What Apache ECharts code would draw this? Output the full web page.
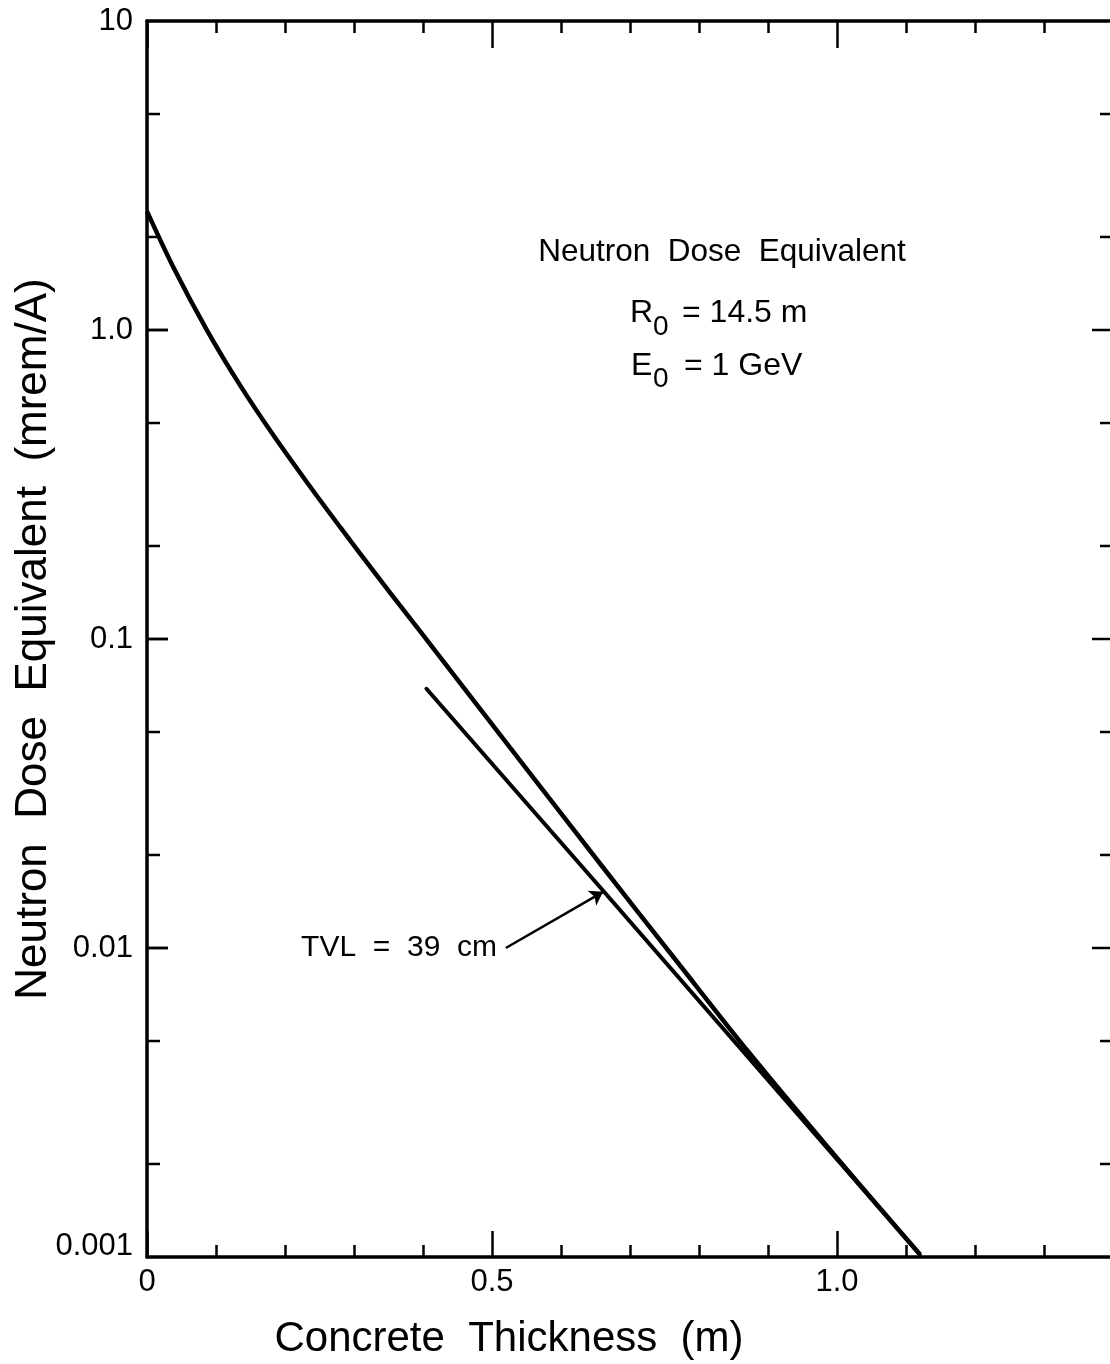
<!DOCTYPE html>
<html><head><meta charset="utf-8">
<script src="https://cdn.jsdelivr.net/npm/echarts@6/dist/echarts.min.js"></script>
<style>html,body{margin:0;padding:0;background:#fff;overflow:hidden}#c{width:1113px;height:1364px}</style>
</head><body><div id="c"></div>
<script>
// ---- data ----
const curveX = [0, 0.038, 0.087, 0.135, 0.183, 0.232, 0.280, 0.328, 0.377, 0.420, 0.550, 0.657, 0.772, 0.870, 1.000, 1.120];
const curveY = [2.42, 1.60, 0.998, 0.662, 0.457, 0.321, 0.230, 0.166, 0.120, 0.0902, 0.0380, 0.0187, 0.00881, 0.00466, 0.00209, 0.00102];
const tvlX = [0.405, 0.657, 1.120];
const tvlY = [0.069, 0.0157, 0.00102];
const arrowFrom = [0.520, 0.0100];
const arrowTo = [0.661, 0.0152];
const xTickValues = [0, 0.5, 1.0];
const xTickLabels = ['0', '0.5', '1.0'];
const yTickLabels = ['0.001', '0.01', '0.1', '1.0', '10'];
const yMajorTicks = [0.01, 0.1, 1];
const yMinorTicks = [5, 2, 0.5, 0.2, 0.05, 0.02, 0.005, 0.002];
const xMax = 1.4;

const FONT = 'Liberation Sans';
const toPairs = (xs, ys) => xs.map((x, i) => [x, ys[i]]);

function xLabel(v) {
  for (let i = 0; i < xTickValues.length; i++) {
    if (Math.abs(v - xTickValues[i]) < 1e-6) return xTickLabels[i];
  }
  return '';
}
function yLabel(v) {
  const k = Math.round(Math.log10(v)) + 3;
  const t = yTickLabels[k] || '';
  return k === 0 ? '{low|' + t + '}' : t;
}

const baseX = {
  type: 'value', min: 0, max: xMax, splitLine: { show: false },
  axisLine: { show: false }, axisLabel: { show: false }
};
const TICK = { color: '#000', width: 2.5 };

// all y-axis ticks (both sides) drawn through the y scale
const yTickRows = [];
[0, xMax].forEach(x => {
  yMajorTicks.forEach(v => yTickRows.push([x, v, 1]));
  yMinorTicks.forEach(v => yTickRows.push([x, v, 0]));
});

const option = {
  animation: false,
  backgroundColor: '#fff',
  grid: { left: 147, top: 21, right: 0, bottom: 107, containLabel: false, outerBoundsMode: 'none' },
  xAxis: [
    Object.assign({}, baseX, {
      position: 'bottom', interval: 0.1,
      axisLine: { show: true, onZero: false, lineStyle: { color: '#000', width: 3.5 } },
      axisTick: { inside: true, length: 12, lineStyle: TICK },
      axisLabel: { show: true, formatter: xLabel, color: '#000', fontFamily: FONT, fontSize: 31, margin: 10 },
      name: 'Concrete  Thickness  (m)', nameLocation: 'middle', nameGap: 61,
      nameTextStyle: { color: '#000', fontFamily: FONT, fontSize: 42, padding: [0, 242, 0, 0] }
    }),
    Object.assign({}, baseX, {
      position: 'bottom', interval: 0.5,
      axisTick: { inside: true, length: 26, lineStyle: TICK }
    }),
    Object.assign({}, baseX, {
      position: 'top', interval: 0.1,
      axisLine: { show: true, onZero: false, lineStyle: { color: '#000', width: 3.5 } },
      axisTick: { inside: true, length: 12, lineStyle: TICK }
    }),
    Object.assign({}, baseX, {
      position: 'top', interval: 0.5,
      axisTick: { inside: true, length: 27, lineStyle: TICK }
    })
  ],
  yAxis: [
    {
      type: 'log', logBase: 10, min: 0.001, max: 10, position: 'left',
      splitLine: { show: false },
      axisLine: { show: true, onZero: false, lineStyle: { color: '#000', width: 3.5 } },
      axisTick: { show: false },
      axisLabel: {
        formatter: yLabel, color: '#000', fontFamily: FONT, fontSize: 31, margin: 14,
        rich: { low: { color: '#000', fontFamily: FONT, fontSize: 31, padding: [0, 0, 22, 0] } }
      },
      name: 'Neutron  Dose  Equivalent  (mrem/A)', nameLocation: 'middle', nameRotate: 90, nameGap: 91,
      nameMoveOverlap: false,
      nameTextStyle: { color: '#000', fontFamily: FONT, fontSize: 44 }
    }
  ],
  graphic: [
    { type: 'text', x: 722, y: 252, style: { text: 'Neutron  Dose  Equivalent', fill: '#000', fontSize: 31.5, fontFamily: FONT, align: 'center', verticalAlign: 'middle' } },
    { type: 'text', x: 630, y: 313, style: { text: 'R', fill: '#000', fontSize: 32, fontFamily: FONT, align: 'left', verticalAlign: 'middle' } },
    { type: 'text', x: 653, y: 327, style: { text: '0', fill: '#000', fontSize: 28, fontFamily: FONT, align: 'left', verticalAlign: 'middle' } },
    { type: 'text', x: 682, y: 313, style: { text: '= 14.5 m', fill: '#000', fontSize: 32, fontFamily: FONT, align: 'left', verticalAlign: 'middle' } },
    { type: 'text', x: 631, y: 366, style: { text: 'E', fill: '#000', fontSize: 32, fontFamily: FONT, align: 'left', verticalAlign: 'middle' } },
    { type: 'text', x: 653, y: 379, style: { text: '0', fill: '#000', fontSize: 28, fontFamily: FONT, align: 'left', verticalAlign: 'middle' } },
    { type: 'text', x: 684, y: 366, style: { text: '= 1 GeV', fill: '#000', fontSize: 32, fontFamily: FONT, align: 'left', verticalAlign: 'middle' } },
    { type: 'text', x: 497, y: 948, style: { text: 'TVL  =  39  cm', fill: '#000', fontSize: 30, fontFamily: FONT, align: 'right', verticalAlign: 'middle' } }
  ],
  series: [
    {
      type: 'line', xAxisIndex: 0, yAxisIndex: 0, data: toPairs(curveX, curveY),
      smooth: 0.3, symbol: 'none', lineStyle: { color: '#000', width: 4.5 }, z: 3
    },
    {
      type: 'line', xAxisIndex: 0, yAxisIndex: 0, data: toPairs(tvlX, tvlY),
      symbol: 'none', lineStyle: { color: '#000', width: 4, cap: 'round' }, z: 3,
      markLine: {
        silent: true, symbol: ['none', 'arrow'], symbolSize: 13,
        label: { show: false },
        lineStyle: { color: '#000', width: 2.5, type: 'solid' },
        data: [[{ coord: arrowFrom }, { coord: arrowTo }]]
      }
    },
    {
      type: 'custom', xAxisIndex: 0, yAxisIndex: 0, silent: true, clip: false, z: 10,
      dimensions: ['x', 'y', 'major'],
      encode: { x: 0, y: 1 },
      data: yTickRows,
      renderItem: function (params, api) {
        const x = api.value(0), v = api.value(1), major = api.value(2);
        const p = api.coord([x, v]);
        const dir = x > 0 ? -1 : 1;
        const len = major ? 21 : 13;
        return {
          type: 'line',
          shape: { x1: p[0], y1: p[1], x2: p[0] + dir * len, y2: p[1] },
          style: { stroke: '#000', lineWidth: 2.5 }
        };
      }
    }
  ]
};

const chart = echarts.init(document.getElementById('c'), null, { renderer: 'canvas' });
chart.setOption(option);

// left-side decade ticks, placed through the y scale as well (extra safety layer)
const extra = yMajorTicks.map((v, i) => {
  const p = chart.convertToPixel({ gridIndex: 0 }, [0, v]);
  return {
    id: 'lt' + i, type: 'line', z: 100,
    shape: { x1: p[0], y1: p[1], x2: p[0] + 21, y2: p[1] },
    style: { stroke: '#000', lineWidth: 2.5 }
  };
});
chart.setOption({ graphic: option.graphic.concat(extra) });
</script>
</body></html>
